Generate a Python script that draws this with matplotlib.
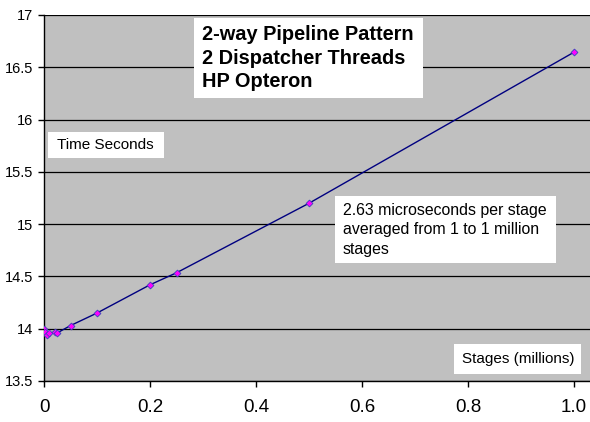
import matplotlib
matplotlib.use("Agg")
import matplotlib.pyplot as plt
from matplotlib.patches import Rectangle

plt.rcParams['font.family'] = ['Liberation Sans', 'DejaVu Sans']

stages = [0.0, 0.001, 0.005, 0.01, 0.02, 0.025, 0.05, 0.1, 0.2, 0.25, 0.5, 1.0]
seconds = [14.0, 13.97, 13.94, 13.96, 13.965, 13.96, 14.03, 14.15, 14.42, 14.535, 15.2, 16.645]
yticks = [13.5, 14, 14.5, 15, 15.5, 16, 16.5, 17]
ytick_labels = ['13.5', '14', '14.5', '15', '15.5', '16', '16.5', '17']
xticks = [0, 0.2, 0.4, 0.6, 0.8, 1.0]
xtick_labels = ['0', '0.2', '0.4', '0.6', '0.8', '1.0']

W, H = 590, 422
fig = plt.figure(figsize=(W/100, H/100), dpi=100)
fig.patch.set_facecolor('white')
ax = fig.add_axes([44/W, 1-381/H, 1-44/W, (381-15)/H])
ax.set_facecolor('#C0C0C0')

ax.set_xlim(0, 1.03)
ax.set_ylim(13.5, 17)
ax.set_yticks(yticks)
ax.set_yticklabels(ytick_labels, fontsize=10.5)
ax.set_xticks(xticks)
ax.set_xticklabels(xtick_labels, fontsize=13.5)
ax.tick_params(axis='y', direction='out', length=4, width=1, pad=3.5, colors='black')
ax.tick_params(axis='x', direction='out', length=4, width=1, pad=9, colors='black')
ax.yaxis.grid(True, color='black', linewidth=0.9)
ax.xaxis.grid(False)
ax.set_axisbelow(True)
for s in ['top', 'right']:
    ax.spines[s].set_visible(False)
for s in ['left', 'bottom']:
    ax.spines[s].set_color('black')
    ax.spines[s].set_linewidth(1)

ax.plot(stages, seconds, color='#000080', linewidth=1.0, marker='D', markersize=3.5,
        markerfacecolor='#FF00FF', markeredgecolor='#4040C0', markeredgewidth=0.6, zorder=3)


def box(x0, y0, x1, y1):
    fig.patches.append(Rectangle((x0/W, 1-y1/H), (x1-x0)/W, (y1-y0)/H,
                                 transform=fig.transFigure, facecolor='white',
                                 edgecolor='none', zorder=5))


box(194, 18, 423, 98)
fig.text(202/W, 1-58/H, "2-way Pipeline Pattern\n2 Dispatcher Threads\nHP Opteron",
         fontsize=14.4, fontweight='bold', ha='left', va='center', linespacing=1.3, zorder=6)
box(48, 132, 164, 158)
fig.text(57/W, 1-145/H, "Time Seconds", fontsize=11, ha='left', va='center', zorder=6)
box(335, 196, 556, 263)
fig.text(343/W, 1-230/H, "2.63 microseconds per stage\naveraged from 1 to 1 million\nstages",
         fontsize=11.4, ha='left', va='center', linespacing=1.35, zorder=6)
box(454, 344, 581, 374)
fig.text(462/W, 1-359/H, "Stages (millions)", fontsize=11, ha='left', va='center', zorder=6)

fig.savefig('out.png', dpi=100)
